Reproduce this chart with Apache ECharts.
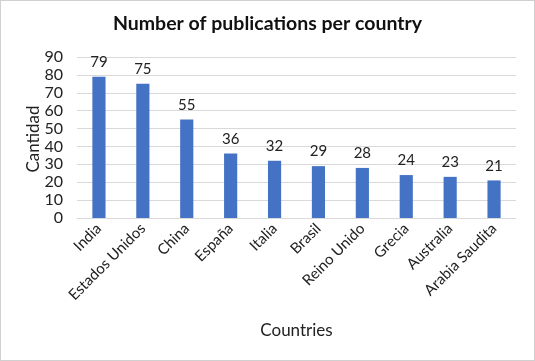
<!DOCTYPE html>
<html><head><meta charset="utf-8">
<script src="https://cdn.jsdelivr.net/npm/echarts@6/dist/echarts.min.js"></script>
<style>
html,body{margin:0;padding:0;background:#fff;}
#c{width:535px;height:361px;box-sizing:border-box;border:1px solid #d0d0d0;}
</style></head><body>
<div id="c"></div>
<script>
const categories = ["India","Estados Unidos","China","España","Italia","Brasil","Reino Unido","Grecia","Australia","Arabia Saudita"];
const values = [79,75,55,36,32,29,28,24,23,21];
const yTicks = {min:0, max:90, interval:10};

const chart = echarts.init(document.getElementById('c'), null, {renderer:'canvas'});
const font = 'Lato, "Open Sans", sans-serif';
chart.setOption({
  animation:false,
  title:{text:'Number of publications per country', left:'center', top:8,
    textStyle:{fontFamily:font, fontSize:19.5, fontWeight:'bold', color:'#111'}},
  grid:{left:76, right:18, top:56, bottom:142},
  graphic:[{type:'text', x:33, y:138, rotation:Math.PI/2,
    style:{text:'Cantidad', font:'17px Lato, "Open Sans", sans-serif', fill:'#222',
      textAlign:'center', textVerticalAlign:'middle'}}],
  xAxis:{type:'category', data:categories,
    axisLine:{lineStyle:{color:'#d9d9d9'}}, axisTick:{show:false},
    axisLabel:{rotate:45, interval:0, fontFamily:font, fontSize:15, color:'#222', margin:8},
    name:'Countries', nameLocation:'middle', nameGap:104,
    nameTextStyle:{fontFamily:font, fontSize:17, color:'#222'}},
  yAxis:{type:'value', min:yTicks.min, max:yTicks.max, interval:yTicks.interval,
    axisLine:{show:false}, axisTick:{show:false},
    splitLine:{lineStyle:{color:'#d9d9d9'}},
    axisLabel:{fontFamily:font, fontSize:16, color:'#222', margin:14}},
  series:[{type:'bar', data:values, barWidth:'30%',
    itemStyle:{color:'#4472C4'},
    label:{show:true, position:'top', distance:7, fontFamily:font, fontSize:15, color:'#222'}}]
});
</script></body></html>
